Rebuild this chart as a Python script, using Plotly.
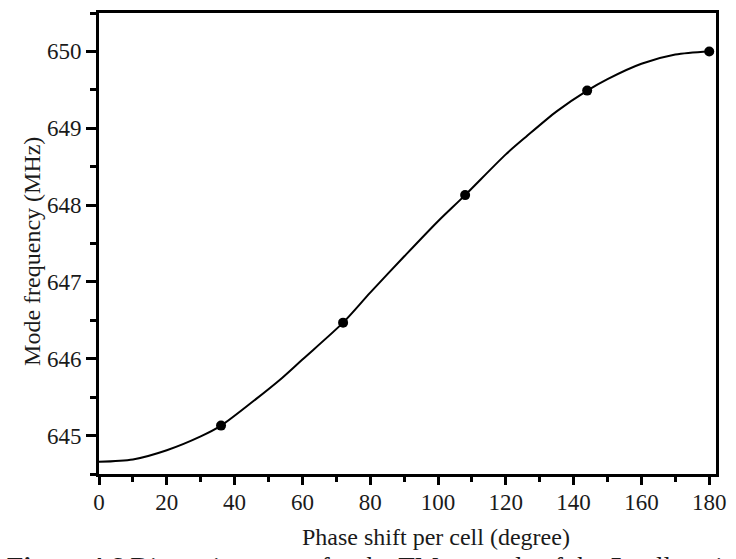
import plotly.graph_objects as go

# Data
phase_deg = [36, 72, 108, 144, 180]
freq_mhz = [645.13, 646.47, 648.13, 649.49, 650.00]
# Points
curve_x = [0, 10, 20, 30, 36, 45, 54, 60, 72, 80, 90, 100, 108, 120, 126, 135, 144, 150, 160, 170, 180]
curve_y = [644.66, 644.69, 644.81, 644.99, 645.13, 645.43, 645.75, 645.99, 646.47, 646.86,
           647.33, 647.79, 648.13, 648.66, 648.89, 649.22, 649.49, 649.64, 649.84, 649.96, 650.00]
x_ticks = [0, 20, 40, 60, 80, 100, 120, 140, 160, 180]
y_ticks = [645, 646, 647, 648, 649, 650]

W, H = 736, 559
L, R, T, B = 99, 16, 10, 85
pw, ph = W - L - R, H - T - B

def px(xp):
    return (xp - L) / pw

def py(yp):
    return (H - B - yp) / ph

FONT = "Liberation Serif"

fig = go.Figure()
fig.add_trace(go.Scatter(
    x=curve_x, y=curve_y, mode="lines",
    line=dict(color="black", width=2, shape="spline", smoothing=0.8),
    hoverinfo="skip", showlegend=False))
fig.add_trace(go.Scatter(
    x=phase_deg, y=freq_mhz, mode="markers",
    marker=dict(color="black", size=10), showlegend=False, cliponaxis=False))

axis_common = dict(
    showline=True, linecolor="black", linewidth=3, mirror=True,
    ticks="outside", tickcolor="black", tickwidth=2.5,
    showgrid=False, zeroline=False,
    tickfont=dict(family=FONT, size=23, color="#1a1a1a"),
)

fig.update_xaxes(range=[0, 182], tickvals=x_ticks, ticklen=8, ticklabelstandoff=-3,
                 minor=dict(dtick=10, tick0=0, ticks="outside", ticklen=5,
                            tickwidth=2.5, tickcolor="black"),
                 **axis_common)
fig.update_yaxes(range=[644.5, 650.5], tickvals=y_ticks, ticklen=10,
                 minor=dict(dtick=0.5, tick0=644.5, ticks="outside", ticklen=6,
                            tickwidth=2.5, tickcolor="black"),
                 **axis_common)

annotations = [
    dict(text="Phase shift per cell (degree)", x=px(438), y=py(537),
         xref="paper", yref="paper", xanchor="center", yanchor="middle",
         showarrow=False, font=dict(family=FONT, size=24, color="#1a1a1a")),
    dict(text="Mode frequency (MHz)", x=px(32), y=py(250), textangle=-90,
         xref="paper", yref="paper", xanchor="center", yanchor="middle",
         showarrow=False, font=dict(family=FONT, size=24, color="#1a1a1a")),
    dict(text="<b>Figure 4.6</b> Dispersion curve for the TM<sub>010</sub> mode of the 5-cell cavity",
         x=px(4), y=py(550), xref="paper", yref="paper",
         xanchor="left", yanchor="top", showarrow=False,
         font=dict(family=FONT, size=27, color="#1a1a1a")),
]

fig.update_layout(
    width=W, height=H,
    margin=dict(l=L, r=R, t=T, b=B),
    paper_bgcolor="white", plot_bgcolor="white",
    font=dict(family=FONT),
    annotations=annotations,
)

fig.write_html("out.html")
